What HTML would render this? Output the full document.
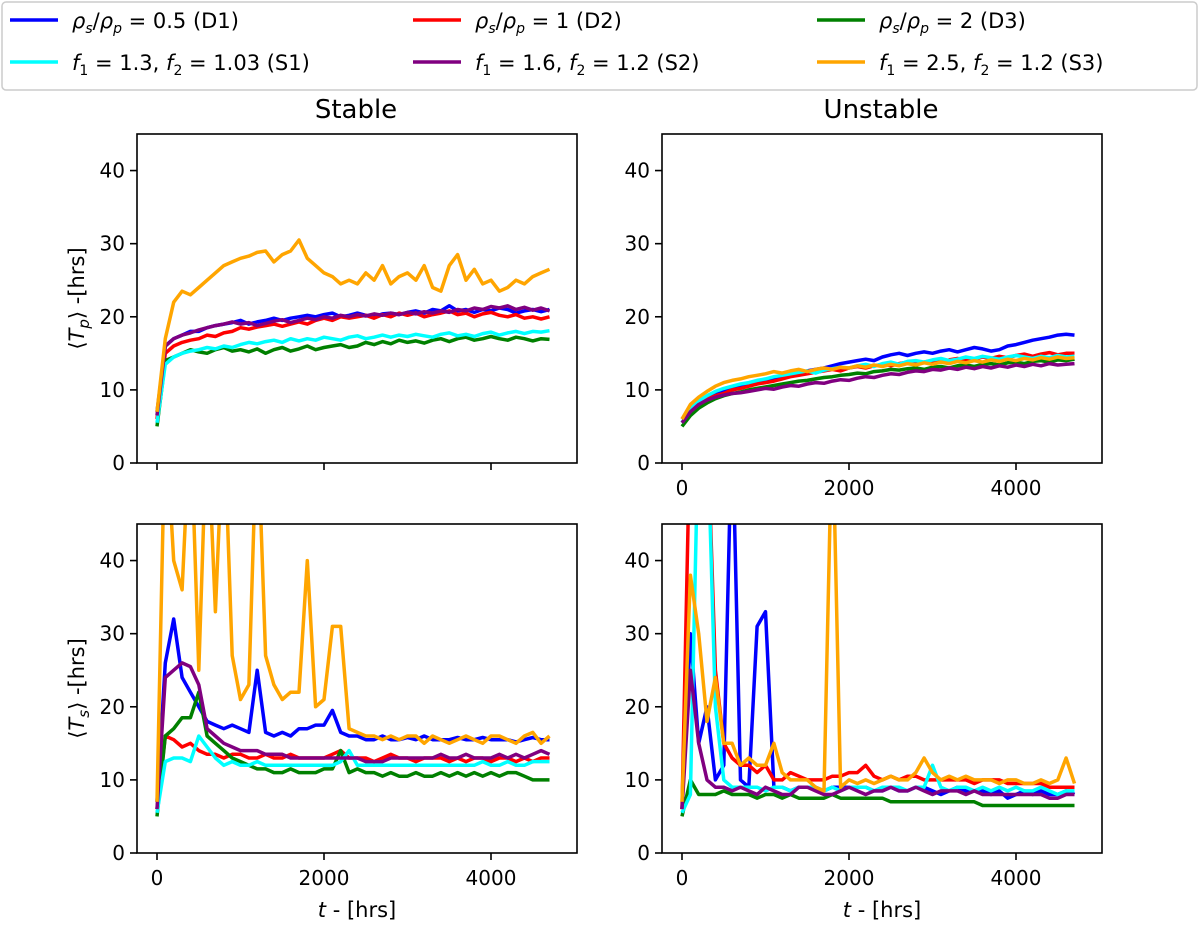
<!DOCTYPE html>
<html><head><meta charset="utf-8"><style>
body{margin:0;background:#fff;}
svg{display:block;font-family:"DejaVu Sans","Liberation Sans",sans-serif;}
</style></head><body>
<svg id="chart" width="1200" height="935" xmlns="http://www.w3.org/2000/svg">
<g id="legend"></g>
<text x="356" y="118" font-size="26" text-anchor="middle">Stable</text>
<text x="881" y="118" font-size="26" text-anchor="middle">Unstable</text>
<g id="panels"></g>
</svg>
<script>
const times=[0,100,200,300,400,500,600,700,800,900,1000,1100,1200,1300,1400,1500,1600,1700,1800,1900,2000,2100,2200,2300,2400,2500,2600,2700,2800,2900,3000,3100,3200,3300,3400,3500,3600,3700,3800,3900,4000,4100,4200,4300,4400,4500,4600,4700];
const seriesNames=["D1","D2","D3","S1","S2","S3"];
const xTicks=[0,2000,4000];
const yTicks=[0,10,20,30,40];
// top-left: stable Tp
const tpStableD1=[7,16,17,17.5,18,18,18.5,18.8,19,19.2,19.5,19,19.3,19.5,19.8,19.5,19.8,20,20.2,20,20.3,20.5,20,20.2,20.5,20.2,20,20.4,20.5,20.3,20.6,20.8,20.5,21,20.8,21.5,20.8,21,20.6,21,20.8,21.2,21,20.5,20.8,21,20.7,21];
const tpStableD2=[6,15,16,16.5,16.8,17,17.5,17.3,17.8,18,18.5,18.3,18.6,18.8,19,18.7,19,19.3,19,19.5,19.8,19.5,20,19.8,20,20.2,19.8,20.3,20,20.5,20.2,20.5,20,20.3,20.5,20.8,20.3,20.5,20,20.4,20.6,20.2,20,20.3,19.8,20,19.7,20];
const tpStableD3=[5,14,14.5,15,15.5,15.2,15,15.5,15.8,15.3,15.5,15.2,15.6,15,15.5,15.8,15.3,15.6,16,15.5,15.8,16,16.2,15.8,16,16.5,16.2,16.6,16.3,16.8,16.5,16.7,16.4,16.8,17,16.6,17,17.2,16.8,17,17.3,17,16.8,17.2,17,16.7,17,16.9];
const tpStableS1=[5.5,13.5,14.5,15,15.3,15.5,15.8,15.6,16,15.8,16.2,16.5,16.3,16.6,16.8,16.5,17,16.7,17,16.8,17.2,17,16.8,17.2,17.4,17,17.2,17.5,17.2,17.5,17.3,17.6,17.4,17.2,17.6,17.8,17.4,17.6,17.3,17.7,17.9,17.5,17.8,18,17.7,18,17.9,18.1];
const tpStableS2=[6.5,16,17,17.5,17.8,18.2,18.5,18.8,19,19.3,19,19.2,18.8,19.1,19.4,19.6,19.2,19.5,19.8,19.6,20,19.8,20.2,20,20.3,20.1,20.4,20.2,20.5,20.3,20.6,20.4,20.7,20.5,20.8,20.6,21,20.8,21.2,21,21.4,21.2,21.5,21,21.3,20.9,21.2,20.8];
const tpStableS3=[7,17,22,23.5,23,24,25,26,27,27.5,28,28.3,28.8,29,27.5,28.5,29,30.5,28,27,26,25.5,24.5,25,24.5,26,25,27,24.5,25.5,26,25,27,24,23.5,27,28.5,25,26.5,24.5,25,23.5,24,25,24.5,25.5,26,26.5];
// top-right: unstable Tp
const tpUnstD1=[6,7.5,8.5,9,9.5,10,10.3,10.5,10.8,11,11.3,11.5,11.8,12,12.3,12.6,12.8,13,13.3,13.6,13.8,14,14.2,14,14.5,14.8,15,14.7,15,15.2,15,15.3,15.5,15.2,15.5,15.8,15.6,15.3,15.5,16,16.2,16.5,16.8,17,17.2,17.5,17.6,17.5];
const tpUnstD2=[5.5,7,8,8.7,9.2,9.5,10,10.2,10.5,10.8,11,11.2,11.5,11.8,12,12.2,12.4,12.6,12.8,12.6,13,13.2,13,13.3,13.5,13.3,13.6,13.8,13.5,13.8,14,13.8,14.1,14.3,14,14.2,14.5,14.3,14.6,14.4,14.7,14.9,14.6,14.9,15.1,14.8,15,15];
const tpUnstD3=[5,6.5,7.5,8.2,8.8,9.2,9.5,9.7,10,10.2,10.4,10.6,10.8,11,11.2,11.3,11.5,11.7,11.8,12,12.1,12.3,12.2,12.5,12.6,12.8,12.7,12.9,13,12.8,13.1,13.2,13,13.3,13.4,13.2,13.5,13.6,13.4,13.7,13.8,13.6,13.9,14,13.8,14.1,14,14.2];
const tpUnstS1=[5.5,7.5,8.5,9.2,9.8,10.2,10.5,10.8,11,11.3,11.5,11.8,12,12.2,12.4,12.6,12.3,12.7,12.9,13.1,13,13.3,13.5,13.2,13.6,13.8,13.5,13.9,14,13.8,14.1,14.3,14,14.2,14.5,14.3,14.6,14.4,14.2,14.5,14.7,14.5,14.3,14.6,14.4,14.7,14.5,14.6];
const tpUnstS2=[5.5,7,8,8.6,9,9.3,9.5,9.6,9.8,10,10.2,10.1,10.4,10.6,10.5,10.8,11,10.9,11.2,11.4,11.3,11.6,11.8,11.7,12,12.2,12.1,12.4,12.6,12.5,12.8,12.7,13,12.8,13.1,12.9,13.2,13,13.3,13.1,13.4,13.2,13.5,13.3,13.6,13.4,13.5,13.6];
const tpUnstS3=[6,8,9,9.8,10.5,11,11.3,11.5,11.8,12,12.2,12.5,12.3,12.6,12.8,12.5,12.8,13,12.8,13.1,13,13.3,13.1,13.4,13.2,13.5,13.3,13.6,13.4,13.7,13.5,13.8,13.6,13.9,13.7,14,13.8,14.1,13.9,14.2,14,14.3,14.1,14.4,14.2,14.5,14.3,14.4];
// bottom-left: stable Ts
const tsStableD1=[7,26,32,24,22,20,18,17.5,17,17.5,17,16.5,25,16.5,16,16.5,16,17,17,17.5,17.5,19.5,16.5,16,16,15.5,15.5,16,15.5,15.5,15.8,15.5,16,15.5,15.5,15.5,15.8,15.5,15.5,15.8,15.5,15.5,15.5,15.2,15.5,15.8,15.5,15.5];
const tsStableD2=[6,16,15.5,14.5,15,14,13.5,13.5,13,13.5,13.5,13,13,13.5,13,13,13.5,13,13,13,13,13.5,14,13,13,13,12.5,13,13.5,13,13,12.5,13,13,13,12.5,13,12.5,13,13,12.5,13,13,12.5,13,12.5,13,13];
const tsStableD3=[5,16,17,18.5,18.5,22,16,15,14,13,12.5,12,11.5,11.5,11,11,11.5,11,11,11,11.5,11.5,14,11,11.5,11,11,10.5,11,10.5,10.5,11,10.5,10.5,11,10.5,11,10.5,11,10.5,11,10.5,11,11,10.5,10,10,10];
const tsStableS1=[5.5,12.5,13,13,12.5,16,14.5,13,12,12.5,12,12,12.5,12,12,12,12,12,12,12,12,12,12.5,14,12,12,12,12,12,12,12,12,12,12,12,12,12,12,12,12.5,12,12,12.5,12,12,12.5,12.5,12.5];
const tsStableS2=[6,24,25,26,25.5,23,17,16,15,14.5,14,14,14,13.5,13.5,13.5,13,13,13,13,13,13,13,13,13,12.5,12.5,12.5,13,13,13,13,13,13,13.5,13,13,13.5,13,13,13,13.5,13,13.5,13,13.5,14,13.5];
const tsStableS3=[7,60,40,36,60,25,60,33,60,27,21,23,60,27,23,21,22,22,40,20,21,31,31,17,16.5,16,16,15.5,16,15.5,16,16,15,16,15.5,15,15.5,16,15.5,15,16,16,15.5,15,16,16.5,15,16];
// bottom-right: unstable Ts
const tsUnstD1=[6,30,15,20,10,12,60,10,9,31,33,9,9,8.5,9,9,9,8.5,9,9,9,9,9,8.5,8.5,9,8.5,8.5,9,9,8.5,8,8.5,9,8.5,8.5,8.5,8,8.5,7.5,8,8.5,8,8.5,8,8,8.5,8];
const tsUnstD2=[6,60,60,60,25,15,13,12,12,11,12,10,10,11,10.5,10,10,10,10.5,10.5,11,11,12,10.5,10,10.5,10,10.5,10.5,10,10,10,10,10,10,9.5,10,10,10,9.5,9.5,9.5,9.5,9.5,9,9,9,9];
const tsUnstD3=[5,10,8,8,8,8.5,8,8,8,7.5,8,8,7.5,8,7.5,7.5,7.5,7.5,8,7.5,7.5,7.5,7.5,7.5,7.5,7,7,7,7,7,7,7,7,7,7,7,6.5,6.5,6.5,6.5,6.5,6.5,6.5,6.5,6.5,6.5,6.5,6.5];
const tsUnstS1=[5.5,8,60,60,20,10,9,9,9,9,8.5,9,9,8.5,9,9,9,8.5,9,8.5,9,9,9,8.5,9,9,9,8.5,9,9,12,9,8.5,9,9,8.5,9,8.5,9,8.5,9,8.5,8.5,9,8.5,8,8.5,8.5];
const tsUnstS2=[6,25,15,10,9,9,8.5,9,8.5,8,9,8.5,8,8,9,9,8.5,8,8,8.5,9,8.5,8,8.5,8.5,9,8.5,8.5,9,8.5,8,8.5,8.5,8.5,8,8.5,8,8,8,8,8,8,8,8,7.5,7.5,8,8];
const tsUnstS3=[7,38,30,18,24,15,15,12,13,12,12,15,11,10,10,10,9,8.5,60,9,10,9.5,10,9.5,10,10.5,10,10,11,13,11,10,10.5,10,10.5,10,10,10,9.5,10,10,9.5,9.5,10,9.5,10,13,9.5];

const colors=["#0000ff","#ff0000","#008000","#00ffff","#800080","#ffa500"];
const NS="http://www.w3.org/2000/svg";
function mk(tag,attrs,parent){const e=document.createElementNS(NS,tag);for(const k in attrs)e.setAttribute(k,attrs[k]);parent.appendChild(e);return e;}

const panelsDef=[
 {name:"stable-tp",x0:137,x1:577,y0:134,y1:463,series:[tpStableD1,tpStableD2,tpStableD3,tpStableS1,tpStableS2,tpStableS3],xlab:false,ylab:"p"},
 {name:"unstable-tp",x0:662,x1:1102,y0:134,y1:463,series:[tpUnstD1,tpUnstD2,tpUnstD3,tpUnstS1,tpUnstS2,tpUnstS3],xlab:true,ylab:null},
 {name:"stable-ts",x0:137,x1:577,y0:524,y1:853,series:[tsStableD1,tsStableD2,tsStableD3,tsStableS1,tsStableS2,tsStableS3],xlab:true,ylab:"s",xtitle:true},
 {name:"unstable-ts",x0:662,x1:1102,y0:524,y1:853,series:[tsUnstD1,tsUnstD2,tsUnstD3,tsUnstS1,tsUnstS2,tsUnstS3],xlab:true,ylab:null,xtitle:true}
];
const root=document.getElementById("panels");
panelsDef.forEach((p,pi)=>{
 const g=mk("g",{},root);
 
 
 const xs=t=>p.x0+20+t*(167/2000);
 const ys=v=>p.y1-v*((p.y1-p.y0)/45);
 const cid="clip"+pi;
 const cp=mk("clipPath",{id:cid},g);
 mk("rect",{x:p.x0,y:p.y0,width:p.x1-p.x0,height:p.y1-p.y0},cp);
 const lg=mk("g",{"clip-path":"url(#"+cid+")"},g);
 p.series.forEach((s,si)=>{
  const d=s.map((v,i)=>(i?"L":"M")+xs(times[i]).toFixed(1)+","+ys(v).toFixed(1)).join("");
  const path=mk("path",{d:d,fill:"none",stroke:colors[si],"stroke-width":3.5,"stroke-linejoin":"round"},lg);
  
  
 });
 const box=mk("rect",{x:p.x0,y:p.y0,width:p.x1-p.x0,height:p.y1-p.y0,fill:"none",stroke:"#000","stroke-width":1.6},g);
 
 
 yTicks.forEach(v=>{
  const y=ys(v);
  mk("line",{x1:p.x0-7,x2:p.x0,y1:y,y2:y,stroke:"#000","stroke-width":1.6},g);
  const t=mk("text",{x:p.x0-12,y:y+7,"font-size":20,"text-anchor":"end"},g);
  t.textContent=v;
  
  
 });
 xTicks.forEach(v=>{
  const x=xs(v);
  mk("line",{x1:x,x2:x,y1:p.y1,y2:p.y1+7,stroke:"#000","stroke-width":1.6},g);
  if(p.xlab){
   const t=mk("text",{x:x,y:p.y1+32,"font-size":20,"text-anchor":"middle"},g);
   t.textContent=v;
   
   
  }
 });
 if(p.ylab){
  const cy=(p.y0+p.y1)/2;
  const t=mk("text",{x:0,y:0,"font-size":21,"text-anchor":"middle",transform:"translate(84,"+cy+") rotate(-90)"},g);
  t.innerHTML='⟨<tspan font-style="italic">T</tspan><tspan font-size="15" font-style="italic" dy="5">'+p.ylab+'</tspan><tspan dy="-5">⟩ -[hrs]</tspan>';
  
  
 }
 if(p.xtitle){
  const t=mk("text",{x:(p.x0+p.x1)/2,y:p.y1+64,"font-size":21,"text-anchor":"middle"},g);
  t.innerHTML='<tspan font-style="italic">t</tspan> - [hrs]';
  
  
 }
});
// legend
const lgd=document.getElementById("legend");
mk("rect",{x:2,y:2,width:1195,height:88,rx:4,fill:"#fff",stroke:"#ccc","stroke-width":1.5},lgd);
const labels=[
 '<tspan font-style="italic">ρ</tspan><tspan font-size="14" font-style="italic" dy="5">s</tspan><tspan dy="-5">/</tspan><tspan font-style="italic">ρ</tspan><tspan font-size="14" font-style="italic" dy="5">p</tspan><tspan dy="-5"> = 0.5 (D1)</tspan>',
 '<tspan font-style="italic">ρ</tspan><tspan font-size="14" font-style="italic" dy="5">s</tspan><tspan dy="-5">/</tspan><tspan font-style="italic">ρ</tspan><tspan font-size="14" font-style="italic" dy="5">p</tspan><tspan dy="-5"> = 1 (D2)</tspan>',
 '<tspan font-style="italic">ρ</tspan><tspan font-size="14" font-style="italic" dy="5">s</tspan><tspan dy="-5">/</tspan><tspan font-style="italic">ρ</tspan><tspan font-size="14" font-style="italic" dy="5">p</tspan><tspan dy="-5"> = 2 (D3)</tspan>',
 '<tspan font-style="italic">f</tspan><tspan font-size="14" dy="5">1</tspan><tspan dy="-5"> = 1.3, </tspan><tspan font-style="italic">f</tspan><tspan font-size="14" dy="5">2</tspan><tspan dy="-5"> = 1.03 (S1)</tspan>',
 '<tspan font-style="italic">f</tspan><tspan font-size="14" dy="5">1</tspan><tspan dy="-5"> = 1.6, </tspan><tspan font-style="italic">f</tspan><tspan font-size="14" dy="5">2</tspan><tspan dy="-5"> = 1.2 (S2)</tspan>',
 '<tspan font-style="italic">f</tspan><tspan font-size="14" dy="5">1</tspan><tspan dy="-5"> = 2.5, </tspan><tspan font-style="italic">f</tspan><tspan font-size="14" dy="5">2</tspan><tspan dy="-5"> = 1.2 (S3)</tspan>'
];
const colX=[10,413,817];
labels.forEach((lab,i)=>{
 const col=i%3,row=Math.floor(i/3);
 const y=row?62:20;
 const g=mk("g",{},lgd);
 
 
 mk("line",{x1:colX[col],x2:colX[col]+48,y1:y,y2:y,stroke:colors[i],"stroke-width":3.5},g);
 const t=mk("text",{x:colX[col]+62,y:y+8,"font-size":21},g);
 t.innerHTML=lab;
});
</script>
</body></html>
